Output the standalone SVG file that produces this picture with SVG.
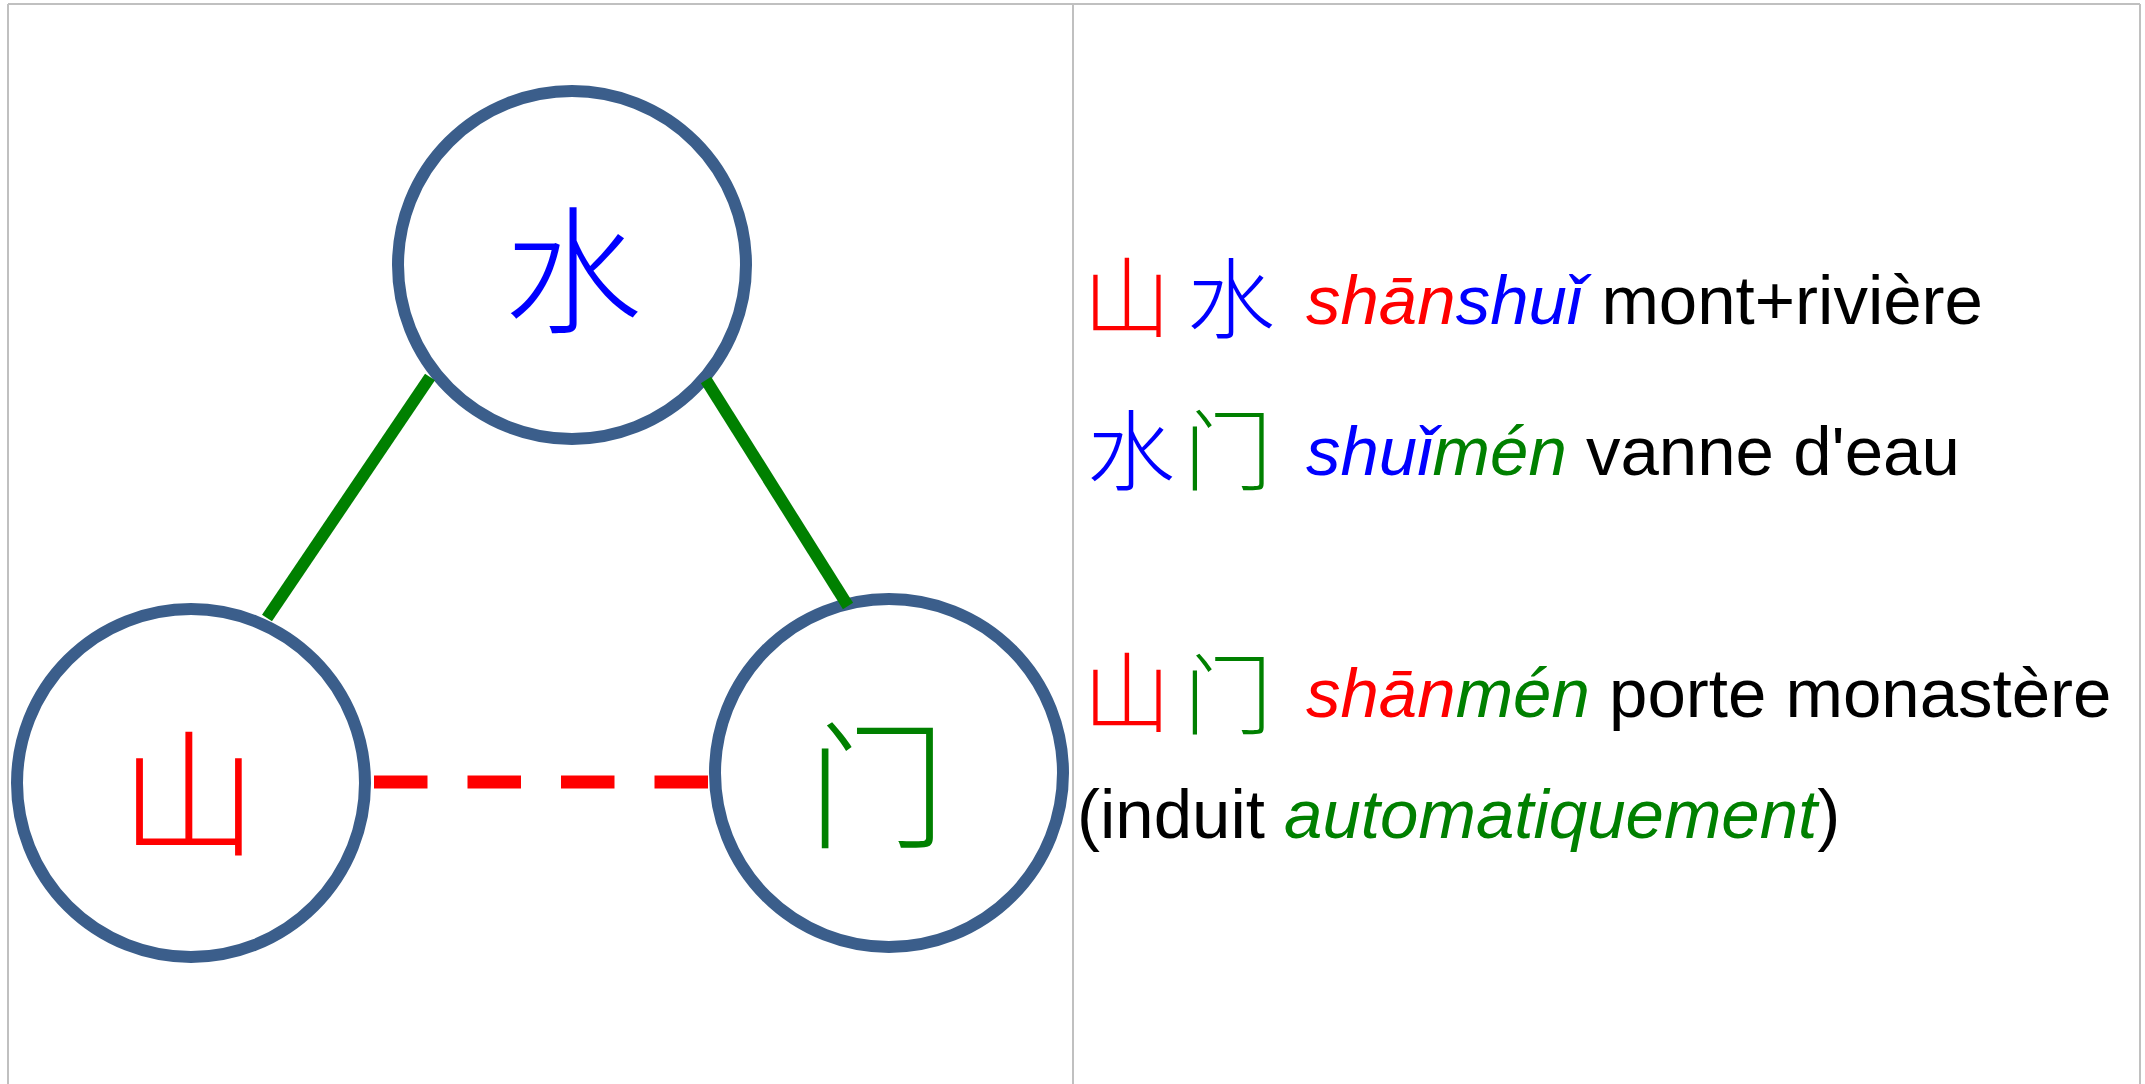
<svg xmlns="http://www.w3.org/2000/svg" width="2145" height="1084" viewBox="0 0 2145 1084">
<style>
.frame{stroke:#c0c0c0;stroke-width:2;fill:none}
.node{fill:#ffffff;stroke:#3b5e8b;stroke-width:12}
.cjk{font-family:"Noto Sans CJK SC","Noto Sans CJK TC",sans-serif;text-anchor:middle;dominant-baseline:central;font-weight:300}
.big{font-size:138px}
.mid{font-size:88px}
.lat{font-family:"Liberation Sans",Arial,sans-serif;font-size:69px;fill:#000000}
.it{font-style:italic}
.r{fill:#ff0000}.b{fill:#0000ff}.g{fill:#008000}
.solid{stroke:#008000;stroke-width:12;fill:none}
.dash{stroke:#ff0000;stroke-width:13;fill:none;stroke-dasharray:53.5 40}
</style>
<rect width="2145" height="1084" fill="#ffffff"/>
<g id="frame">
<line class="frame" x1="8" y1="4" x2="2140" y2="4"/>
<line class="frame" x1="8" y1="4" x2="8" y2="1084"/>
<line class="frame" x1="1073" y1="4" x2="1073" y2="1084"/>
<line class="frame" x1="2140" y1="4" x2="2140" y2="1084"/>
</g>
<g id="node-shui">
<circle class="node" cx="572" cy="265" r="174"/>
<text class="cjk big b" x="573" y="262">水</text>
</g>
<g id="node-shan">
<circle class="node" cx="191" cy="783" r="174"/>
<text class="cjk big r" x="189" y="785">山</text>
</g>
<g id="node-men">
<circle class="node" cx="889" cy="773" r="174"/>
<text class="cjk big g" x="877" y="777">门</text>
</g>
<g id="connectors">
<line class="solid" x1="430" y1="377" x2="267" y2="618"/>
<line class="solid" x1="706" y1="380" x2="848" y2="606"/>
<line class="dash" x1="374" y1="782" x2="708" y2="782"/>
</g>
<g id="legend">
<text class="cjk mid r" x="1127" y="291">山</text>
<text class="cjk mid b" x="1231" y="292">水</text>
<text class="lat" x="1306" y="324"><tspan class="it r">shān</tspan><tspan class="it b">shuǐ</tspan> mont+rivière</text>
<text class="cjk mid b" x="1131" y="444">水</text>
<text class="cjk mid g" x="1228" y="444">门</text>
<text class="lat" x="1306" y="475"><tspan class="it b">shuǐ</tspan><tspan class="it g">mén</tspan> vanne d'eau</text>
<text class="cjk mid r" x="1127" y="686">山</text>
<text class="cjk mid g" x="1228" y="688">门</text>
<text class="lat" x="1306" y="717"><tspan class="it r">shān</tspan><tspan class="it g">mén</tspan> porte monastère</text>
<text class="lat" x="1077" y="838">(induit <tspan class="it g">automatiquement</tspan>)</text>
</g>
</svg>
